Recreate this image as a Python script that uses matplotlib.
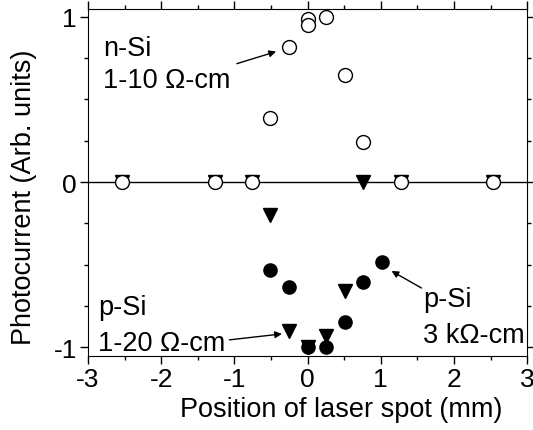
import matplotlib.pyplot as plt
from matplotlib.ticker import MultipleLocator

plt.rcParams['font.family'] = ['Liberation Sans', 'DejaVu Sans']

# positions are multiples of 0.254 mm
n_x = [-2.54, -1.27, -0.762, -0.508, -0.254, 0.0, 0.0, 0.254, 0.508, 0.762, 1.27, 2.54]
n_y = [0.0, 0.0, 0.0, 0.39, 0.818, 0.99, 0.953, 1.0, 0.648, 0.24, 0.0, 0.0]

p_low_x = [-2.54, -1.27, -0.762, -0.508, -0.254, 0.0, 0.254, 0.508, 0.762, 1.27, 2.54]
p_low_y = [0.0, 0.0, 0.0, -0.2, -0.905, -1.0, -0.93, -0.66, 0.0, 0.0, 0.0]

p_high_x = [-0.508, -0.254, 0.0, 0.254, 0.508, 0.762, 1.016]
p_high_y = [-0.53, -0.633, -1.0, -1.0, -0.85, -0.606, -0.485]

x_ticks = [-3, -2, -1, 0, 1, 2, 3]
y_ticks = [-1, 0, 1]

fig = plt.figure(figsize=(5.33, 4.31), dpi=100)
ax = fig.add_axes([0.165, 0.172, 0.824, 0.804])

ax.axhline(0, color='k', lw=1, zorder=1)
ax.plot(p_low_x, p_low_y, 'v', color='k', ms=9.5, ls='none', zorder=2)
ax.plot(p_high_x, p_high_y, 'o', color='k', ms=9.5, ls='none', zorder=3)
ax.plot(n_x, n_y, 'o', mfc='white', mec='k', mew=1, ms=10, ls='none', zorder=4)

ax.set_xlim(-3, 3)
ax.set_ylim(-1.053, 1.046)
ax.set_xticks(x_ticks)
ax.set_xticklabels([str(t) for t in x_ticks])
ax.set_yticks(y_ticks)
ax.set_yticklabels([str(t) for t in y_ticks])
ax.xaxis.set_minor_locator(MultipleLocator(0.5))
ax.yaxis.set_minor_locator(MultipleLocator(0.25))
ax.tick_params(which='both', direction='out', top=True, right=True,
               labeltop=False, labelright=False, labelsize=19, pad=2)
ax.tick_params(which='major', length=6, width=1)
ax.tick_params(which='minor', length=3, width=1)

ax.set_xlabel('Position of laser spot (mm)', fontsize=19.5)
ax.set_ylabel('Photocurrent (Arb. units)', fontsize=19.5)
ax.xaxis.set_label_coords(0.576, -0.115)
ax.yaxis.set_label_coords(-0.115, 0.46)

fs = 19.5
arrow = dict(arrowstyle='-|>', color='k', lw=1, mutation_scale=10, shrinkA=0, shrinkB=0)
ax.text(-2.795, 0.767, 'n-Si', fontsize=fs)
ax.text(-2.795, 0.574, '1-10 Ω-cm', fontsize=fs)
ax.annotate('', xy=(-0.43, 0.79), xytext=(-0.966, 0.717), arrowprops=arrow)
ax.text(-2.858, -0.80, 'p-Si', fontsize=fs)
ax.text(-2.858, -1.015, '1-20 Ω-cm', fontsize=fs)
ax.annotate('', xy=(-0.35, -0.92), xytext=(-1.067, -0.956), arrowprops=arrow)
ax.text(1.577, -0.748, 'p-Si', fontsize=fs)
ax.text(1.577, -0.966, '3 kΩ-cm', fontsize=fs)
ax.annotate('', xy=(1.147, -0.539), xytext=(1.557, -0.642), arrowprops=arrow)

fig.savefig('out.png', dpi=100)
